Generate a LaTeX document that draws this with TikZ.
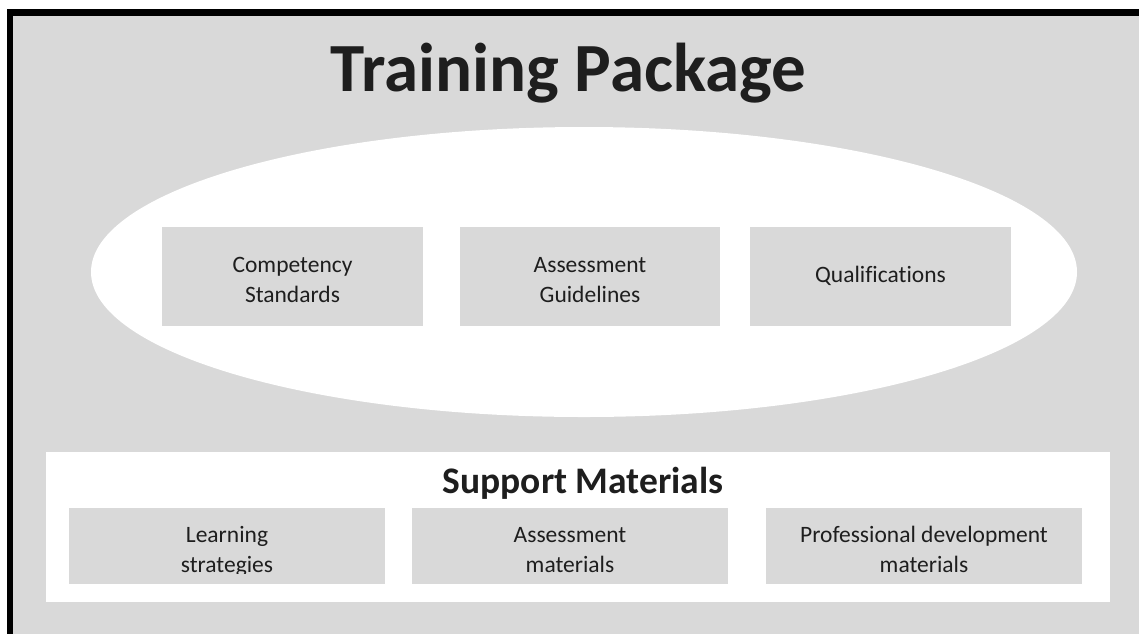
\documentclass[tikz,border=0pt]{standalone}
\usepackage{fontspec}
\setmainfont{Carlito}[Ligatures=CommonOff]
\definecolor{panelgray}{HTML}{D9D9D9}
\definecolor{inkgray}{HTML}{1E1E1E}

\begin{document}
\begin{tikzpicture}[
    x=1pt, y=-1pt,
    frame/.style={draw=black, line width=6.5pt, fill=panelgray},
    gbox/.style={fill=panelgray, inner sep=0pt, minimum width=#1, minimum height=99pt},
    sbox/.style={fill=panelgray, inner sep=0pt, minimum width=316pt, minimum height=76pt},
    boxtext/.style={text=inkgray, inner sep=0pt, align=center, font=\fontsize{23.5}{30.5}\selectfont},
    heading/.style={text=inkgray, inner sep=0pt, font=\bfseries\fontsize{#1}{#1}\selectfont}
    ]
    \useasboundingbox (0,0) rectangle (1139,633);
    \clip (0,0) rectangle (1139,633);

    % outer panel, runs off the right and bottom edges
    \draw[frame] (10,12.5) rectangle (1160,660);
    \node[heading=69, anchor=base] (title) at (568.5,91) {Training Package};

    \fill[white] (584,272) ellipse [x radius=493, y radius=145];
    \node[gbox=261pt] (comp) at (292.5,276.5) {};
    \node[gbox=260pt] (guide) at (590,276.5) {};
    \node[gbox=261pt] (qual) at (880.5,276.5) {};
    \node[boxtext] (compT) at ([yshift=-3.3pt]comp.center) {Competency\\Standards};
    \node[boxtext] (guideT) at ([yshift=-3.4pt]guide.center) {Assessment\\Guidelines};
    \node[boxtext, anchor=base] (qualT) at (880.5,282) {Qualifications};

    % support materials strip
    \fill[white] (46,452) rectangle (1110,602);
    \node[heading=37.5, anchor=base] (support) at (583,493) {Support Materials};
    \node[sbox] (learn) at (227,545.5) {};
    \node[sbox] (amat) at (570,545.5) {};
    \node[sbox] (prof) at (924,545.5) {};
    \begin{scope}
        \clip (0,0) rectangle (1139,573.5);
        \node[boxtext] (learnT) at ([yshift=-6pt]learn.center) {Learning\\strategies};
        \node[boxtext] (amatT) at ([yshift=-4.5pt]amat.center) {Assessment\\materials};
        \node[boxtext] (profT) at ([yshift=-4pt]prof.center) {Professional development\\materials};
    \end{scope}

\end{tikzpicture}
\end{document}
